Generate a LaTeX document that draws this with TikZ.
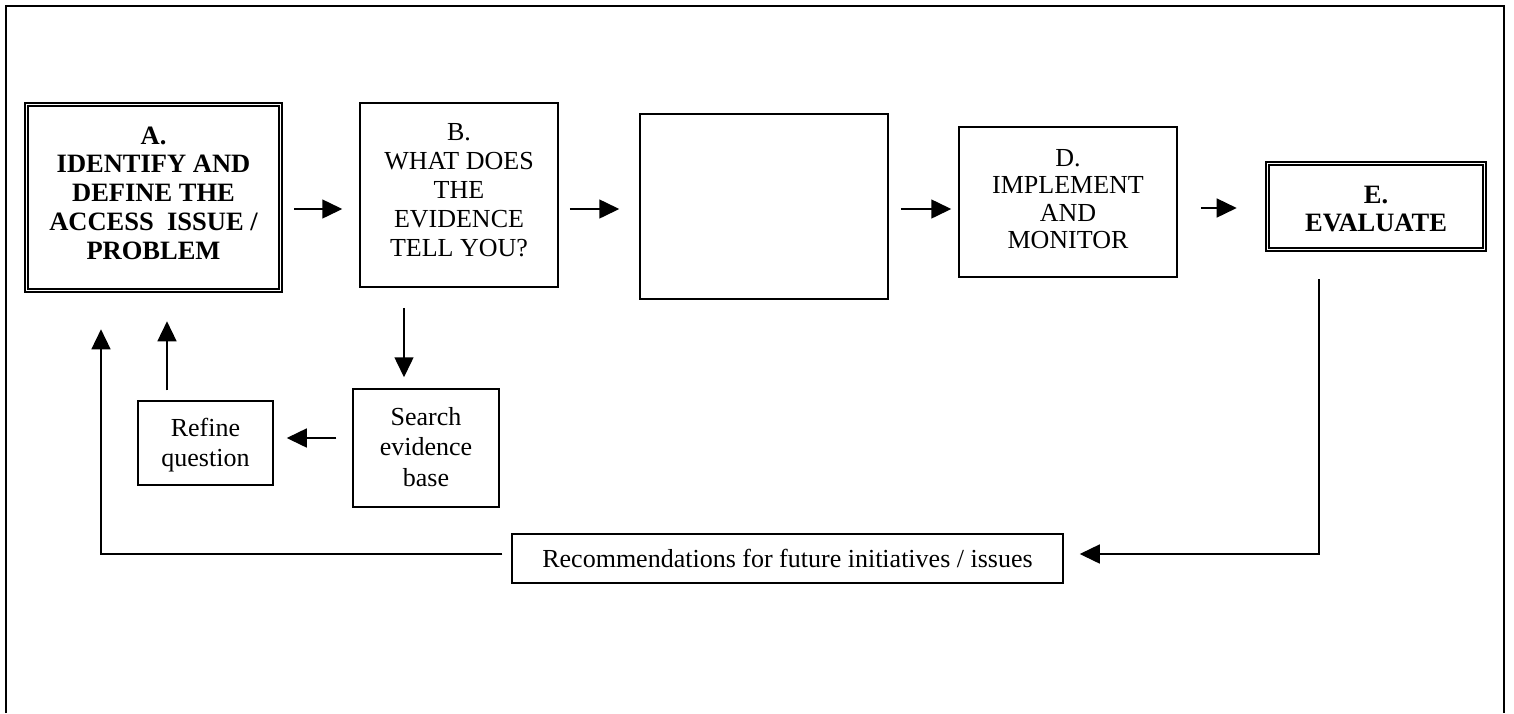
\documentclass[tikz,border=0pt]{standalone}
\usepackage{fontspec}
\setmainfont{Liberation Serif}
\usetikzlibrary{arrows.meta,calc}
\tikzset{
  box/.style={draw, line width=1.5pt, inner sep=0pt},
  outerbox/.style={draw, line width=2.6pt, inner sep=0pt},
  innerline/.style={line width=1.8pt},
  txt/.style={align=center, inner sep=0pt, font=\fontsize{26}{#1}\selectfont},
  btxt/.style={align=center, inner sep=0pt, font=\fontsize{26.5}{#1}\selectfont\bfseries},
  arr/.style={line width=1.5pt, -{Triangle[length=20pt,width=19pt]}},
  frame/.style={line width=2pt}
}
\begin{document}
\begin{tikzpicture}[x=1pt,y=-1pt]
\useasboundingbox (0,0) rectangle (1514,713);
% outer frame (open at bottom)
\draw[frame] (6,713) -- (6,6) -- (1504,6) -- (1504,713);

% A (double border)
\node[outerbox, minimum width=257pt, minimum height=189pt] (A) at (153.5,197.5) {};
\draw[innerline] ($(A.north west)+(4,4)$) rectangle ($(A.south east)+(-4,-4)$);
\node[btxt=28.8] (Atxt) at (153.5,193) {A.\\IDENTIFY AND\\DEFINE THE\\ACCESS\ \ ISSUE /\\PROBLEM};

% B
\node[box, minimum width=198pt, minimum height=184pt] (B) at (459,195) {};
\node[txt=29] (Btxt) at (459,190) {B.\\WHAT DOES\\THE\\EVIDENCE\\TELL YOU?};

% C (empty)
\node[box, minimum width=248pt, minimum height=185pt] (C) at (764,206.5) {};

% D
\node[box, minimum width=218pt, minimum height=150pt] (D) at (1068,202) {};
\node[txt=27.5] (Dtxt) at (1068,199) {D.\\IMPLEMENT\\AND\\MONITOR};

% E (double border)
\node[outerbox, minimum width=220pt, minimum height=89pt] (E) at (1376,206.5) {};
\draw[innerline] ($(E.north west)+(4,4)$) rectangle ($(E.south east)+(-4,-4)$);
\node[btxt=28] (Etxt) at (1376,209) {E.\\EVALUATE};

% Search evidence base
\node[box, minimum width=146pt, minimum height=118pt] (S) at (426,448) {};
\node[txt=30.5] (Stxt) at (426,447) {Search\\evidence\\base};

% Refine question
\node[box, minimum width=135pt, minimum height=84pt] (R) at (205.5,443) {};
\node[txt=30] (Rtxt) at (205.5,445) {Refine\\question};

% Recommendations
\node[box, minimum width=551pt, minimum height=49pt] (Rec) at (787.5,558.5) {};
\node[txt=30] (Rectxt) at (787.5,558.5) {Recommendations for future initiatives / issues};

% helper coordinates for connector levels
\coordinate (row1) at (0,209);
\coordinate (row2) at (0,208);
\coordinate (rowS) at (0,438);
\coordinate (rowL) at (0,554);
\coordinate (colB) at (404,0);
\coordinate (colR) at (167,0);
\coordinate (colE) at (1319,0);
\coordinate (colL) at (101,0);

% main row arrows
\draw[arr, shorten <=11pt, shorten >=17pt] (A.east |- row1) -- (B.west |- row1);
\draw[arr, shorten <=11pt, shorten >=20pt] (B.east |- row1) -- (C.west |- row1);
\draw[arr, shorten <=12pt, shorten >=7pt] (C.east |- row1) -- (D.west |- row1);
\draw[arr, shorten <=23pt, shorten >=28pt] (D.east |- row2) -- (E.west |- row2);

% lower loop
\draw[arr, shorten <=20pt, shorten >=11pt] (B.south -| colB) -- (S.north -| colB);
\draw[arr, shorten <=16pt, shorten >=13pt] (S.west |- rowS) -- (R.east |- rowS);
\draw[arr, shorten <=10pt, shorten >=28pt] (R.north -| colR) -- (A.south -| colR);

% feedback
\draw[arr, shorten <=27pt, shorten >=16pt] (E.south -| colE) |- (Rec.east |- rowL);
\draw[arr, shorten <=9pt, shorten >=36pt] (Rec.west |- rowL) -| (A.south -| colL);
\end{tikzpicture}
\end{document}
